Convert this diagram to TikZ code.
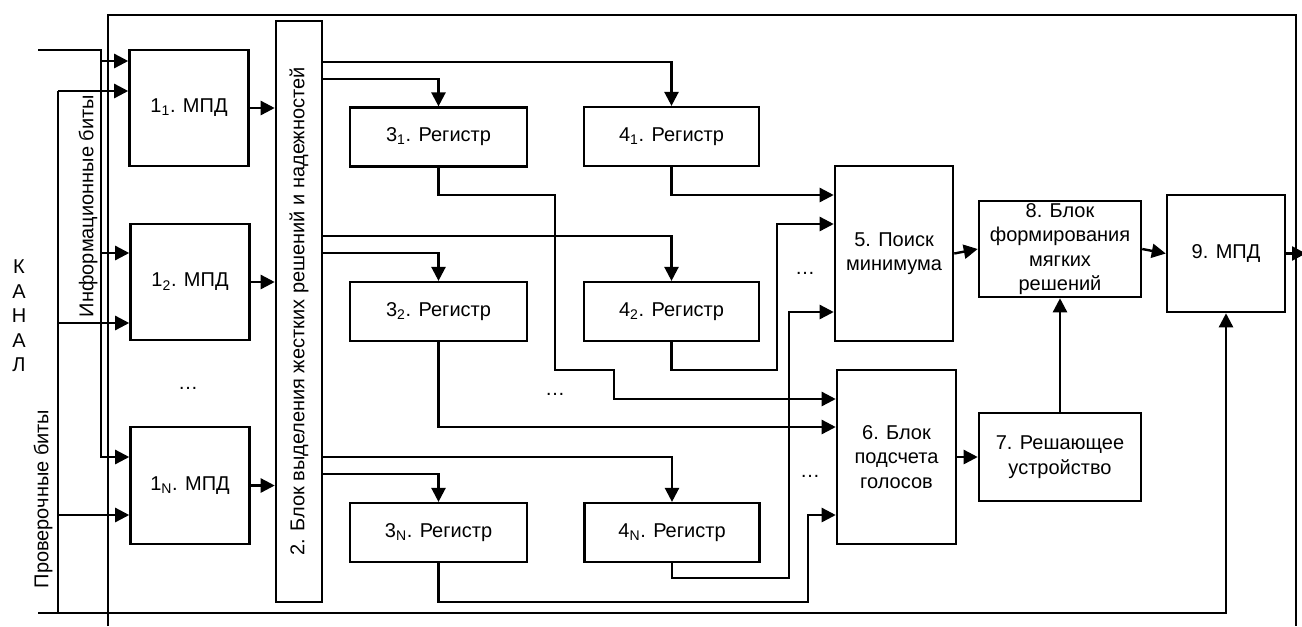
\documentclass[tikz,border=0pt]{standalone}
\usepackage{fontspec}
\setmainfont{Liberation Sans}
\usetikzlibrary{arrows.meta}
\tikzset{
  blk/.style={draw, line width=1.9pt, inner sep=0pt, align=center},
  wire/.style={line width=1.8pt},
  arr/.style={line width=1.8pt, -{Triangle[length=10.5pt,width=10.5pt]}},
  lbl/.style={inner sep=0pt, align=center},
  frame/.style={line width=0.9pt}
}
\newcommand{\fsz}{\fontsize{15pt}{18.4pt}\selectfont}
\begin{document}
\begin{tikzpicture}[x=0.75pt,y=-0.75pt,font=\fsz]
\useasboundingbox (0,0) rectangle (1302,626);
% outer frame
\draw[frame] (108,626) -- (108,15) -- (1296,15) -- (1296,626);
% blocks
\node[blk, minimum width=89.25pt, minimum height=87pt] (n11) at (189,108) {1\textsubscript{1}. МПД};
\node[blk, minimum width=89.25pt, minimum height=87pt] (n12) at (190,282) {1\textsubscript{2}. МПД};
\node[blk, minimum width=89.25pt, minimum height=87.75pt] (n1N) at (190,485.5) {1\textsubscript{N}. МПД};
\node[blk, minimum width=34.5pt, minimum height=435.75pt] (n2) at (299,311.5) {};
\node[lbl, rotate=90] (n2t) at (n2.center) {2. Блок выделения жестких решений и надежностей};
\node[blk, minimum width=132.75pt, minimum height=44pt] (n31) at (438.5,137) {3\textsubscript{1}. Регистр};
\node[blk, minimum width=132.75pt, minimum height=44pt] (n32) at (438.5,311.5) {3\textsubscript{2}. Регистр};
\node[blk, minimum width=132.75pt, minimum height=44pt] (n3N) at (438.5,532.5) {3\textsubscript{N}. Регистр};
\node[blk, minimum width=131.25pt, minimum height=44pt] (n41) at (671.5,136.5) {4\textsubscript{1}. Регистр};
\node[blk, minimum width=131.25pt, minimum height=44pt] (n42) at (671.5,311.5) {4\textsubscript{2}. Регистр};
\node[blk, minimum width=131.25pt, minimum height=44pt] (n4N) at (672,532.5) {4\textsubscript{N}. Регистр};
\node[blk, minimum width=88.5pt, minimum height=131.25pt] (n5) at (894,253.5) {5. Поиск\\минимума};
\node[blk, minimum width=89.25pt, minimum height=130.5pt] (n6) at (896.5,457) {6. Блок\\подсчета\\голосов};
\node[blk, minimum width=121.5pt, minimum height=72pt] (n8) at (1060,249) {8. Блок\\формирования\\мягких\\решений};
\node[blk, minimum width=121.5pt, minimum height=66pt] (n7) at (1060,457) {7. Решающее\\устройство};
\node[blk, minimum width=88.5pt, minimum height=87.75pt] (n9) at (1226,253.5) {9. МПД};
% side labels
\node[lbl, rotate=90] (infolbl) at (88,206) {Информационные биты};
\node[lbl, rotate=90] (checklbl) at (43,499) {Проверочные биты};
\node[lbl] (kanal) at (19,316) {К\\А\\Н\\А\\Л};
% dots
\node[lbl] (d1) at (188,388) {…};
\node[lbl] (d2) at (555,394) {…};
\node[lbl] (d3) at (805,273) {…};
\node[lbl] (d4) at (810,476) {…};
% information bits bus
\coordinate (chA) at (38,50);
\coordinate (i0) at (101,50);
\coordinate (i1) at (101,61);
\coordinate (i2) at (101,253);
\coordinate (iN) at (101,457);
\draw[arr] (chA) -- (i0) -- (iN) -- (n1N.west |- iN);
\draw[arr] (i1) -- (n11.west |- i1);
\draw[arr] (i2) -- (n12.west |- i2);
% check bits bus
\coordinate (c1) at (58,91);
\coordinate (c2) at (58,323);
\coordinate (c3) at (58,515);
\coordinate (cB) at (58,613);
\coordinate (chB) at (38,613);
\draw[wire] (c1) -- (cB);
\draw[arr] (c1) -- (n11.west |- c1);
\draw[arr] (c2) -- (n12.west |- c2);
\draw[arr] (c3) -- (n1N.west |- c3);
\draw[arr] (chB) -- (n9.south |- chB) -- (n9.south);
% 1 -> 2
\draw[arr] (n11.east) -- (n2.west |- n11.east);
\draw[arr] (n12.east) -- (n2.west |- n12.east);
\draw[arr] (n1N.east) -- (n2.west |- n1N.east);
% 2 -> 3,4
\draw[arr] (n2.east |- 0,62) -- (n41.north |- 0,62) -- (n41.north);
\draw[arr] (n2.east |- 0,79) -- (n31.north |- 0,79) -- (n31.north);
\draw[arr] (n2.east |- 0,236) -- (n42.north |- 0,236) -- (n42.north);
\draw[arr] (n2.east |- 0,253) -- (n32.north |- 0,253) -- (n32.north);
\draw[arr] (n2.east |- 0,457) -- (n4N.north |- 0,457) -- (n4N.north);
\draw[arr] (n2.east |- 0,474) -- (n3N.north |- 0,474) -- (n3N.north);
% 4 -> 5
\draw[arr] (n41.south) -- (n41.south |- 0,195) -- (n5.west |- 0,195);
\draw[arr] (n42.south) -- (n42.south |- 0,370) -- (777,370) -- (777,224) -- (n5.west |- 0,224);
\draw[arr] (n4N.south) -- (n4N.south |- 0,578) -- (789,578) -- (789,312) -- (n5.west |- 0,312);
% 3 -> 6
\draw[arr] (n31.south) -- (n31.south |- 0,195) -- (555,195) -- (555,370) -- (614,370) -- (614,399) -- (n6.west |- 0,399);
\draw[arr] (n32.south) -- (n32.south |- 0,427) -- (n6.west |- 0,427);
\draw[arr] (n3N.south) -- (n3N.south |- 0,602) -- (808,602) -- (808,515) -- (n6.west |- 0,515);
% right part
\draw[arr] (n5.east) -- (n8.west);
\draw[arr] (n8.east) -- (n9.west);
\draw[arr] (n6.east) -- (n7.west);
\draw[arr] (n7.north) -- (n8.south);
\coordinate (out) at (1306,253.5);
\draw[arr] (n9.east) -- (out);
\end{tikzpicture}
\end{document}
